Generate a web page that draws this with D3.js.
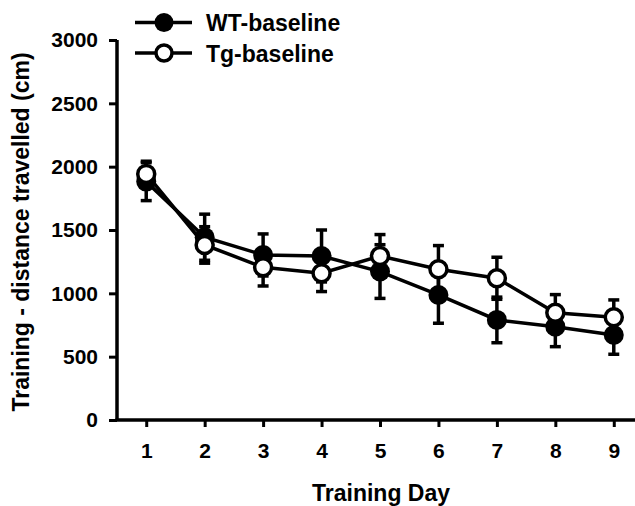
<!DOCTYPE html>
<html><head><meta charset="utf-8">
<script src="https://cdn.jsdelivr.net/npm/d3@7"></script>
<style>body{margin:0;background:#fff}text{font-family:"Liberation Sans",Arial,sans-serif;font-weight:bold}</style>
</head><body><svg id="c" width="635" height="506"></svg>
<script>
const days = [1,2,3,4,5,6,7,8,9];
const yTicks = [0,500,1000,1500,2000,2500,3000];
const wtMean = [1882,1443,1303,1295,1172,987,790,737,671];
const wtSem  = [150,182,166,205,212,223,180,158,152];
const tgMean = [1943,1382,1206,1159,1295,1190,1119,847,811];
const tgSem  = [100,144,148,145,169,187,166,143,137];
const seriesNames = ["WT-baseline","Tg-baseline"];

const svg = d3.select("#c");
const x = d3.scaleLinear().domain([0.5,9.5]).range([117,643]);
const y = d3.scaleLinear().domain([0,3000]).range([420,40]);

const gy = svg.append("g").attr("transform","translate(117,0)")
  .call(d3.axisLeft(y).tickValues(yTicks).tickSize(8).tickPadding(11).tickFormat(d3.format("d")));
const gx = svg.append("g").attr("transform","translate(0,420)")
  .call(d3.axisBottom(x).tickValues(days).tickSize(7).tickPadding(16).tickFormat(d3.format("d")));
[gy,gx].forEach(g=>{
  g.selectAll("path").attr("stroke","#000").attr("stroke-width",3.5);
  g.selectAll("line").attr("stroke","#000").attr("stroke-width",3);
  g.selectAll("text").attr("fill","#000").style("font-size","21px").style("font-weight","bold");
});
gx.select("path").attr("d",`M${x(0.5)-1.5},0H640`);
gy.select("path").attr("d",`M0,${y(3000)}V${y(0)}`);

svg.append("text").attr("transform",`translate(29,${(y(0)+y(3000))/2+2}) rotate(-90)`)
  .attr("text-anchor","middle").style("font-size","23px").text("Training - distance travelled (cm)");
svg.append("text").attr("x",312).attr("y",501).attr("text-anchor","start")
  .style("font-size","23px").text("Training Day");

function drawSeries(mean, sem, filled){
  const g = svg.append("g");
  const data = days.map((d,i)=>({d, m:mean[i], s:sem[i]}));
  const eb = g.append("g").attr("stroke","#000").attr("stroke-width",3.5);
  data.forEach(p=>{
    eb.append("line").attr("x1",x(p.d)).attr("x2",x(p.d)).attr("y1",y(p.m-p.s)).attr("y2",y(p.m+p.s));
    eb.append("line").attr("x1",x(p.d)-5.5).attr("x2",x(p.d)+5.5).attr("y1",y(p.m+p.s)).attr("y2",y(p.m+p.s));
    eb.append("line").attr("x1",x(p.d)-5.5).attr("x2",x(p.d)+5.5).attr("y1",y(p.m-p.s)).attr("y2",y(p.m-p.s));
  });
  g.append("path").datum(data).attr("fill","none").attr("stroke","#000").attr("stroke-width",3.5)
    .attr("d",d3.line().x(p=>x(p.d)).y(p=>y(p.m)));
  g.selectAll("circle").data(data).join("circle")
    .attr("cx",p=>x(p.d)).attr("cy",p=>y(p.m))
    .attr("r", filled?10:8.5).attr("fill",filled?"#000":"#fff").attr("stroke","#000").attr("stroke-width",filled?0:3.5);
}
drawSeries(wtMean, wtSem, true);
drawSeries(tgMean, tgSem, false);

const leg = svg.append("g");
[0,1].forEach(i=>{
  const ly = 22.5 + i*30.5;
  leg.append("line").attr("x1",135).attr("x2",192).attr("y1",ly).attr("y2",ly).attr("stroke","#000").attr("stroke-width",3.5);
  leg.append("circle").attr("cx",164).attr("cy",ly).attr("r",i===0?9.5:8)
    .attr("fill",i===0?"#000":"#fff").attr("stroke","#000").attr("stroke-width",i===0?0:3.5);
  leg.append("text").attr("x",206).attr("y",ly+8.5).style("font-size","23px").text(seriesNames[i]);
});
</script></body></html>
